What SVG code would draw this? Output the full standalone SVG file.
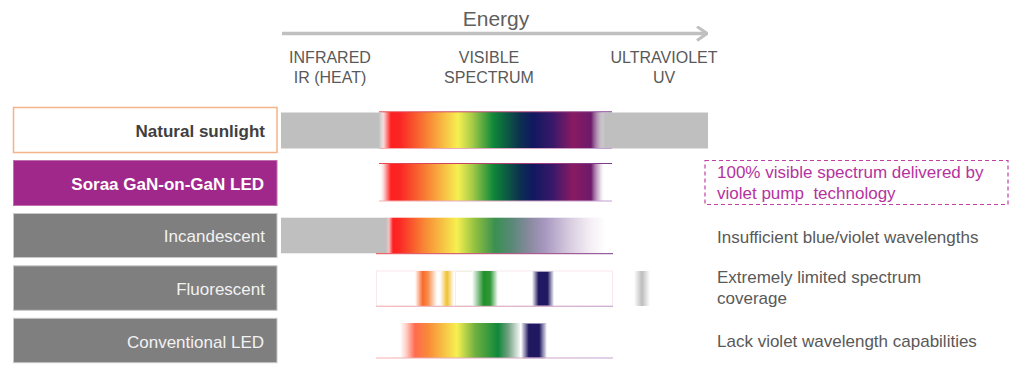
<svg xmlns="http://www.w3.org/2000/svg" width="1024" height="375" viewBox="0 0 1024 375">
<style>
.lbl{font-family:"Liberation Sans",Arial,sans-serif;font-size:17px;text-anchor:end}
.hdr{font-family:"Liberation Sans",Arial,sans-serif;font-size:16px;fill:#595959;text-anchor:middle}
.note{font-family:"Liberation Sans",Arial,sans-serif;font-size:17px;fill:#595959}
.pink{fill:#b5339e}
.gbox{fill:#7f7f7f;stroke:#c8c8c8;stroke-width:1}
.gray{fill:#bfbfbf}
</style>
<defs>
<linearGradient id="spec" gradientUnits="userSpaceOnUse" x1="379" y1="0" x2="612" y2="0">
<stop offset="0" stop-color="#ffffff" stop-opacity="0"/>
<stop offset="0.02" stop-color="#fbd6d6"/>
<stop offset="0.051" stop-color="#ff2020"/>
<stop offset="0.09" stop-color="#fa2525"/>
<stop offset="0.176" stop-color="#f86a30"/>
<stop offset="0.262" stop-color="#f8b040"/>
<stop offset="0.339" stop-color="#f6f050"/>
<stop offset="0.399" stop-color="#a8cc48"/>
<stop offset="0.489" stop-color="#10893a"/>
<stop offset="0.541" stop-color="#0c6040"/>
<stop offset="0.605" stop-color="#0c3050"/>
<stop offset="0.661" stop-color="#101860"/>
<stop offset="0.747" stop-color="#3a186a"/>
<stop offset="0.833" stop-color="#8a1a62"/>
<stop offset="0.91" stop-color="#6c1a6a"/>
<stop offset="0.945" stop-color="#c0a0c0" stop-opacity="0.6"/>
<stop offset="0.97" stop-color="#ffffff" stop-opacity="0"/>
<stop offset="1" stop-color="#ffffff" stop-opacity="0"/>
</linearGradient>
<linearGradient id="inc" gradientUnits="userSpaceOnUse" x1="386" y1="0" x2="612" y2="0">
<stop offset="0" stop-color="#c0c0c0"/>
<stop offset="0.013" stop-color="#f8c0c0"/>
<stop offset="0.031" stop-color="#ff2020"/>
<stop offset="0.062" stop-color="#fa2a25"/>
<stop offset="0.173" stop-color="#f88a35"/>
<stop offset="0.314" stop-color="#f6f050"/>
<stop offset="0.394" stop-color="#90c040"/>
<stop offset="0.482" stop-color="#3a9050"/>
<stop offset="0.558" stop-color="#5a8878"/>
<stop offset="0.637" stop-color="#8a8aa0"/>
<stop offset="0.704" stop-color="#a898c0"/>
<stop offset="0.814" stop-color="#d8cce0"/>
<stop offset="0.903" stop-color="#f4eef4"/>
<stop offset="0.97" stop-color="#ffffff"/>
</linearGradient>
<linearGradient id="led" gradientUnits="userSpaceOnUse" x1="400" y1="0" x2="520" y2="0">
<stop offset="0" stop-color="#ffffff"/>
<stop offset="0.05" stop-color="#ffd0c8"/>
<stop offset="0.125" stop-color="#ff6a50"/>
<stop offset="0.233" stop-color="#f88a38"/>
<stop offset="0.475" stop-color="#f6f050"/>
<stop offset="0.625" stop-color="#70b040"/>
<stop offset="0.817" stop-color="#10883a"/>
<stop offset="0.9" stop-color="#70a080"/>
<stop offset="1" stop-color="#f4f6f6"/>
</linearGradient>
<linearGradient id="bOrange" x1="0" y1="0" x2="1" y2="0"><stop offset="0" stop-color="#fff"/><stop offset="0.35" stop-color="#f86a2a"/><stop offset="0.6" stop-color="#f89050"/><stop offset="1" stop-color="#fff"/></linearGradient>
<linearGradient id="bYellow" x1="0" y1="0" x2="1" y2="0"><stop offset="0" stop-color="#fff"/><stop offset="0.5" stop-color="#f0c030"/><stop offset="1" stop-color="#fff"/></linearGradient>
<linearGradient id="bGreen" x1="0" y1="0" x2="1" y2="0"><stop offset="0" stop-color="#fff"/><stop offset="0.45" stop-color="#20902a"/><stop offset="0.7" stop-color="#30983a"/><stop offset="1" stop-color="#fff"/></linearGradient>
<linearGradient id="bNavy" x1="0" y1="0" x2="1" y2="0"><stop offset="0" stop-color="#fff"/><stop offset="0.3" stop-color="#201860"/><stop offset="0.7" stop-color="#201860"/><stop offset="1" stop-color="#fff"/></linearGradient>
<linearGradient id="bGray" x1="0" y1="0" x2="1" y2="0"><stop offset="0" stop-color="#fff"/><stop offset="0.5" stop-color="#bdbdbd"/><stop offset="1" stop-color="#fff"/></linearGradient>
<linearGradient id="edge" gradientUnits="userSpaceOnUse" x1="376" y1="0" x2="613" y2="0"><stop offset="0" stop-color="#f04848"/><stop offset="1" stop-color="#7a3a90"/></linearGradient>
<linearGradient id="edgeL" gradientUnits="userSpaceOnUse" x1="376" y1="0" x2="613" y2="0"><stop offset="0" stop-color="#f8b0b0"/><stop offset="1" stop-color="#c0a0d0"/></linearGradient>
<marker id="chev" viewBox="0 0 12 16" refX="11" refY="8" markerWidth="12" markerHeight="16" markerUnits="userSpaceOnUse" orient="auto"><path d="M1,1 L11,8 L1,15" fill="none" stroke="#c0c0c0" stroke-width="3"/></marker>
</defs>

<g id="connectors">
<line x1="282" y1="33.5" x2="707" y2="33.5" stroke="#c0c0c0" stroke-width="3.5" marker-end="url(#chev)"/>
</g>

<g id="axis-labels">
<text x="496" y="26" font-family="Liberation Sans, Arial, sans-serif" font-size="21" fill="#606060" text-anchor="middle">Energy</text>
<text class="hdr" x="330" y="63">INFRARED</text>
<text class="hdr" x="330" y="83">IR (HEAT)</text>
<text class="hdr" x="489" y="63">VISIBLE</text>
<text class="hdr" x="489" y="83">SPECTRUM</text>
<text class="hdr" x="664" y="63">ULTRAVIOLET</text>
<text class="hdr" x="664" y="83">UV</text>
</g>

<g id="natural-sunlight">
<rect x="13.5" y="107.5" width="263.5" height="45" fill="#ffffff" stroke="#f5b487" stroke-width="1.5"/>
<text class="lbl" x="265" y="137" font-weight="bold" fill="#404040">Natural sunlight</text>
<rect class="gray" x="281" y="112.5" width="427" height="36"/>
<rect x="379" y="112" width="233" height="36.5" fill="url(#spec)"/>
<line x1="379" y1="111.8" x2="612" y2="111.8" stroke="url(#edge)" stroke-width="1"/>
<line x1="379" y1="148.5" x2="612" y2="148.5" stroke="url(#edgeL)" stroke-width="1"/>
</g>

<g id="soraa-led">
<rect x="13.5" y="160.5" width="263.5" height="45" fill="#a0288a" stroke="#c070b0" stroke-width="1"/>
<text class="lbl" x="264" y="189.5" font-weight="bold" fill="#ffffff">Soraa GaN-on-GaN LED</text>
<rect x="379" y="163.5" width="233" height="37.5" fill="url(#spec)"/>
<line x1="379" y1="163.5" x2="612" y2="163.5" stroke="url(#edge)" stroke-width="1"/>
<line x1="379" y1="201" x2="612" y2="201" stroke="url(#edgeL)" stroke-width="1"/>
<rect x="705" y="160.5" width="303" height="44" fill="none" stroke="#c040a8" stroke-width="1.2" stroke-dasharray="4,3"/>
<text class="note pink" x="717" y="178">100% visible spectrum delivered by</text>
<text class="note pink" x="717" y="199">violet pump&#160; technology</text>
</g>

<g id="incandescent">
<rect class="gbox" x="13.5" y="213.5" width="263.5" height="44"/>
<text class="lbl" x="265" y="242" fill="#f2f2f2">Incandescent</text>
<rect class="gray" x="281" y="217.7" width="106" height="35.6"/>
<rect x="386" y="217.7" width="226" height="35.6" fill="url(#inc)"/>
<line x1="376" y1="253.7" x2="613" y2="253.7" stroke="url(#edge)" stroke-width="1"/>
<text class="note" x="717" y="243">Insufficient blue/violet wavelengths</text>
</g>

<g id="fluorescent">
<rect class="gbox" x="13.5" y="265.8" width="263.5" height="44.5"/>
<text class="lbl" x="265" y="295" fill="#f2f2f2">Fluorescent</text>
<rect x="376.5" y="271" width="236" height="35" fill="#ffffff" stroke="#f8e8ec" stroke-width="1"/>
<rect x="415" y="271" width="22" height="35" fill="url(#bOrange)"/>
<rect x="440" y="271" width="14" height="35" fill="url(#bYellow)"/>
<rect x="455.5" y="271.5" width="17" height="34.5" fill="none" stroke="#f2f2e2" stroke-width="1"/>
<rect x="472" y="271" width="26" height="35" fill="url(#bGreen)"/>
<rect x="532" y="271" width="22" height="35" fill="url(#bNavy)"/>
<rect x="533.5" y="271.5" width="19" height="34.5" fill="none" stroke="#c8c8d8" stroke-width="0.8"/>
<rect x="634" y="271" width="16" height="35" fill="url(#bGray)"/>
<line x1="376" y1="306.3" x2="613" y2="306.3" stroke="url(#edgeL)" stroke-width="1"/>
<text class="note" x="717" y="283">Extremely limited spectrum</text>
<text class="note" x="717" y="304">coverage</text>
</g>

<g id="conventional-led">
<rect class="gbox" x="13.5" y="318.3" width="263.5" height="44.4"/>
<text class="lbl" x="264" y="347.5" fill="#f2f2f2">Conventional LED</text>
<rect x="400" y="323" width="120" height="35" fill="url(#led)"/>
<rect x="521" y="323" width="26" height="35" fill="url(#bNavy)"/>
<rect x="523.5" y="323.5" width="21" height="34.5" fill="none" stroke="#b0b0c8" stroke-width="0.8"/>
<line x1="376" y1="358" x2="613" y2="358" stroke="url(#edgeL)" stroke-width="1"/>
<text class="note" x="717" y="347">Lack violet wavelength capabilities</text>
</g>
</svg>
